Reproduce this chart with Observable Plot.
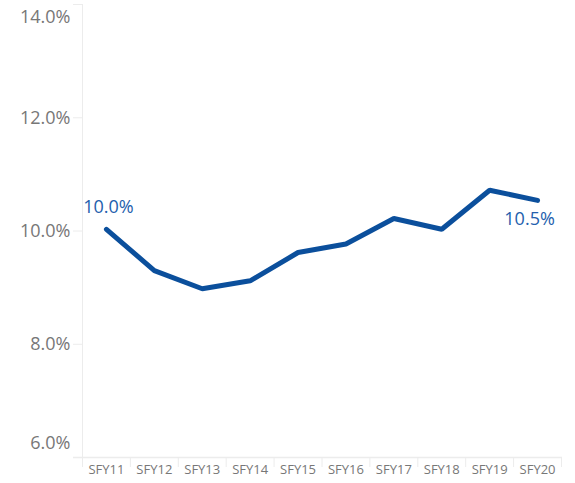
<!DOCTYPE html>
<html>
<head>
<meta charset="utf-8">
<script src="https://cdn.jsdelivr.net/npm/d3@7"></script>
<script src="https://cdn.jsdelivr.net/npm/@observablehq/plot@0.6"></script>
<style>
  html, body { margin: 0; padding: 0; background: #fff; }
  #chart svg { display: block; }
</style>
</head>
<body>
<div id="chart"></div>
<script>
const years = ["SFY11","SFY12","SFY13","SFY14","SFY15","SFY16","SFY17","SFY18","SFY19","SFY20"];
const rates = [10.03, 9.30, 8.98, 9.12, 9.62, 9.77, 10.22, 10.03, 10.72, 10.54];
const yTicks = [6, 8, 10, 12, 14];
const labelYears = ["SFY11", "SFY20"];

const data = years.map((y, i) => ({year: y, rate: rates[i]}));
const fmt = d => d.toFixed(1) + "%";

const W = 575, H = 483;
const mL = 82, mR = 14, mT = 4, mB = 26;
const step = (W - mL - mR) / years.length;

const axisGray = "#ececec";
const labelGray = "#777";
const lineBlue = "#0b4f9c";
const labelBlue = "#2460ad";

const chart = Plot.plot({
  width: W,
  height: H,
  marginLeft: mL,
  marginRight: mR,
  marginTop: mT,
  marginBottom: mB,
  style: {fontFamily: "'Open Sans', Lato, sans-serif", background: "#fff"},
  x: {type: "point", domain: years, padding: 0.5, round: false, axis: null},
  y: {domain: [6, 14], axis: null},
  marks: [
    Plot.ruleX([years[0]], {dx: -step / 2, stroke: axisGray, strokeWidth: 1}),
    Plot.ruleY([6], {stroke: axisGray, strokeWidth: 1.5, insetLeft: -9, insetRight: -1}),
    // y axis ticks
    Plot.axisY({ticks: yTicks, tickSize: 9, text: null, stroke: axisGray, label: null}),
    // y labels: middle
    Plot.axisY({ticks: yTicks.slice(1, 4), tickFormat: fmt, tickSize: 0, tickPadding: 12, fill: labelGray, fontSize: 18, label: null}),
    // extreme labels offset inside
    Plot.axisY({ticks: [14], tickFormat: fmt, tickSize: 0, tickPadding: 12, fill: labelGray, fontSize: 18, label: null, dy: 13}),
    Plot.axisY({ticks: [6], tickFormat: fmt, tickSize: 0, tickPadding: 12, fill: labelGray, fontSize: 18, label: null, dy: -14}),
    // x axis separators
    Plot.axisX({ticks: years, tickSize: 10, text: null, stroke: axisGray, dx: -step / 2, label: null}),
    Plot.axisX({ticks: [years[years.length - 1]], tickSize: 10, text: null, stroke: axisGray, dx: step / 2, label: null}),
    Plot.axisX({ticks: years, tickSize: 0, tickPadding: 7, fill: labelGray, fontSize: 13, label: null}),
    Plot.line(data, {x: "year", y: "rate", stroke: lineBlue, strokeWidth: 5, strokeLinejoin: "miter", strokeLinecap: "round"}),
    Plot.text(data.filter(d => d.year === labelYears[0]), {x: "year", y: "rate", text: d => fmt(d.rate), fill: labelBlue, fontSize: 18, dx: 2, dy: -22}),
    Plot.text(data.filter(d => d.year === labelYears[1]), {x: "year", y: "rate", text: d => fmt(d.rate), fill: labelBlue, fontSize: 18, dx: -8, dy: 19})
  ]
});
document.getElementById("chart").appendChild(chart);
</script>
</body>
</html>
